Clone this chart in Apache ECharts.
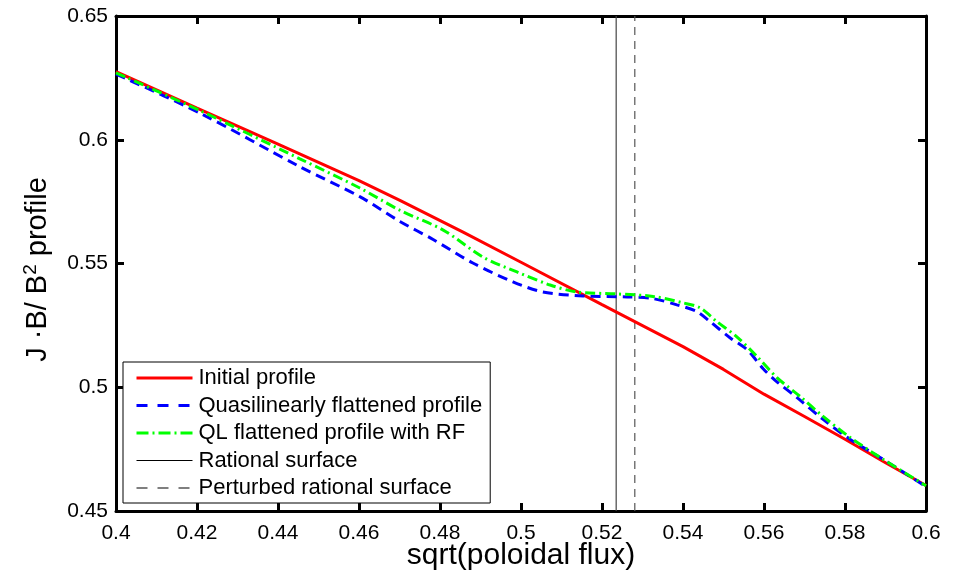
<!DOCTYPE html>
<html>
<head>
<meta charset="utf-8">
<script src="https://cdn.jsdelivr.net/npm/echarts@6/dist/echarts.min.js"></script>
<style>
html,body{margin:0;padding:0;background:#fff;}
#chart{width:961px;height:576px;}
</style>
</head>
<body>
<div id="chart"></div>
<script>
// ---- data ----
const seriesNames = ["Initial profile", "Quasilinearly flattened profile", "QL flattened profile with RF", "Rational surface", "Perturbed rational surface"];

const xInitial = [0.40, 0.42, 0.44, 0.46, 0.4701, 0.4857, 0.50, 0.52, 0.5319, 0.54, 0.55, 0.56, 0.57, 0.58, 0.59, 0.60];
const yInitial = [0.6275, 0.6128, 0.5982, 0.5835, 0.5755, 0.5627, 0.5505, 0.5334, 0.5233, 0.5164, 0.5072, 0.4972, 0.4882, 0.4790, 0.4695, 0.4603];

const xQL = [0.40, 0.4207, 0.4454, 0.4602, 0.4701, 0.4783, 0.4881, 0.498, 0.5054, 0.5153, 0.5262, 0.5326, 0.5385, 0.5435, 0.5467, 0.5516, 0.5558, 0.5598, 0.5632, 0.5681, 0.5746, 0.5812, 0.5894, 0.60];
const yQL = [0.6265, 0.6108, 0.5891, 0.5770, 0.5670, 0.5597, 0.5502, 0.5426, 0.5385, 0.5369, 0.5365, 0.5358, 0.5333, 0.5305, 0.5265, 0.5200, 0.5152, 0.5075, 0.5022, 0.4959, 0.4870, 0.4790, 0.4709, 0.4598];

const xRF = [0.40, 0.4207, 0.4454, 0.4602, 0.4701, 0.4808, 0.4906, 0.499, 0.5072, 0.5138, 0.5237, 0.5326, 0.54, 0.5442, 0.5484, 0.5533, 0.5583, 0.5632, 0.5689, 0.5746, 0.5812, 0.5894, 0.60];
const yRF = [0.6270, 0.6118, 0.5923, 0.5805, 0.5715, 0.5635, 0.5526, 0.5466, 0.5413, 0.5385, 0.5377, 0.5367, 0.5341, 0.5321, 0.5265, 0.5204, 0.5124, 0.5039, 0.4963, 0.4882, 0.4798, 0.4709, 0.4602];

const rationalX = 0.5235;
const perturbedX = 0.5281;

const xTicks = {min: 0.4, max: 0.6, interval: 0.02};
const yTicks = {min: 0.45, max: 0.65, interval: 0.05};
// --------------------------------------

function pairs(xs, ys){ return xs.map((x,i)=>[x, ys[i]]); }

const FONT = '"Liberation Sans", Arial, Helvetica, sans-serif';
const chart = echarts.init(document.getElementById('chart'), null, {renderer:'canvas'});

const axisCommon = {
  axisLine: {show: true, onZero: false, lineStyle: {color: '#000', width: 3}},
  axisTick: {show: true, inside: true, length: 8, lineStyle: {color: '#000', width: 3}},
  splitLine: {show: false}
};

const option = {
  backgroundColor: '#fff',
  animation: false,
  textStyle: {fontFamily: FONT},
  grid: {left: 116, right: 35, top: 16, bottom: 65, containLabel: false, outerBoundsMode: 'none'},
  legend: {
    orient: 'vertical',
    left: 123, top: 362,
    padding: [5, 8, 4, 12],
    itemGap: 5.5,
    itemWidth: 56, itemHeight: 14,
    borderColor: '#000', borderWidth: 1,
    backgroundColor: '#fff',
    itemStyle: {color: 'rgba(0,0,0,0)', borderWidth: 0, opacity: 0},
    textStyle: {fontFamily: FONT, fontSize: 22, color: '#000', padding: [0,0,0,1]},
    data: [
      {name: seriesNames[0], lineStyle: {width: 3, color: '#ff0000', type: 'solid'}},
      {name: seriesNames[1], lineStyle: {width: 3, color: '#0000ff', type: [11, 10]}},
      {name: seriesNames[2], lineStyle: {width: 3, color: '#00ff00', type: [12, 4, 2, 4]}},
      {name: seriesNames[3], lineStyle: {width: 1, color: '#000', type: 'solid'}},
      {name: seriesNames[4], lineStyle: {width: 1.2, color: '#000', type: [11, 10]}}
    ]
  },
  xAxis: [
    Object.assign({
      type: 'value', position: 'bottom',
      min: xTicks.min, max: xTicks.max, interval: xTicks.interval,
      name: 'sqrt(poloidal flux)', nameLocation: 'middle', nameGap: 30, nameMoveOverlap: false,
      nameTextStyle: {fontFamily: FONT, fontSize: 30, color: '#000'},
      axisLabel: {fontFamily: FONT, fontSize: 21, color: '#000', margin: 12}
    }, axisCommon),
    Object.assign({
      type: 'value', position: 'top',
      min: xTicks.min, max: xTicks.max, interval: xTicks.interval,
      axisLabel: {show: false}
    }, axisCommon)
  ],
  yAxis: [
    Object.assign({
      type: 'value', position: 'left',
      min: yTicks.min, max: yTicks.max, interval: yTicks.interval,
      name: '{a|J ·B/ B}{s|2}{a| profile}', nameLocation: 'middle', nameGap: 62, nameMoveOverlap: false,
      nameTextStyle: {
        fontFamily: FONT, fontSize: 29, color: '#000', padding: [0, 12, 0, 0],
        rich: {
          a: {fontFamily: FONT, fontSize: 29, color: '#000'},
          s: {fontFamily: FONT, fontSize: 19, color: '#000', verticalAlign: 'top', padding: [0,0,14,0]}
        }
      },
      axisLabel: {fontFamily: FONT, fontSize: 21, color: '#000', margin: 8}
    }, axisCommon),
    Object.assign({
      type: 'value', position: 'right',
      min: yTicks.min, max: yTicks.max, interval: yTicks.interval,
      axisLabel: {show: false}
    }, axisCommon)
  ],
  series: [
    {
      name: seriesNames[0], type: 'line', data: pairs(xInitial, yInitial),
      showSymbol: false, symbol: 'none', smooth: false,
      lineStyle: {color: '#ff0000', width: 3}, itemStyle: {color: '#ff0000'}, z: 2
    },
    {
      name: seriesNames[1], type: 'line', data: pairs(xQL, yQL),
      showSymbol: false, symbol: 'none', smooth: 0.3,
      lineStyle: {color: '#0000ff', width: 3, type: [10, 6]}, itemStyle: {color: '#0000ff'}, z: 3
    },
    {
      name: seriesNames[2], type: 'line', data: pairs(xRF, yRF),
      showSymbol: false, symbol: 'none', smooth: 0.3,
      lineStyle: {color: '#00ff00', width: 3, type: [10, 4, 2, 4]}, itemStyle: {color: '#00ff00'}, z: 4
    },
    {
      name: seriesNames[3], type: 'line', data: [[rationalX, yTicks.min], [rationalX, yTicks.max]],
      showSymbol: false, symbol: 'none',
      lineStyle: {color: '#444', width: 1.2}, itemStyle: {color: '#444'}, z: 1
    },
    {
      name: seriesNames[4], type: 'line', data: [[perturbedX, yTicks.min], [perturbedX, yTicks.max]],
      showSymbol: false, symbol: 'none',
      lineStyle: {color: '#555', width: 1.2, type: [8, 6]}, itemStyle: {color: '#555'}, z: 1
    }
  ]
};
chart.setOption(option);
</script>
</body>
</html>
